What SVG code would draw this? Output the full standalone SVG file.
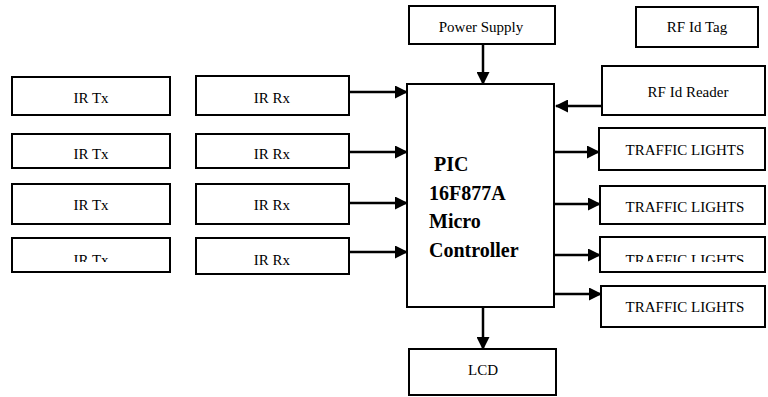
<svg xmlns="http://www.w3.org/2000/svg" width="768" height="397" viewBox="0 0 768 397">
<style>
.b{fill:#fff;stroke:#000;stroke-width:2}
.t{font-family:"Liberation Serif","Times New Roman",serif;font-size:15px;fill:#000;text-anchor:middle}
.m{font-family:"Liberation Serif","Times New Roman",serif;font-size:20px;font-weight:bold;fill:#000}
.c line{stroke:#000;stroke-width:2.5;marker-end:url(#ah)}
</style>
<defs>
<marker id="ah" markerWidth="13" markerHeight="13" refX="12" refY="6.5" orient="auto" markerUnits="userSpaceOnUse">
<path d="M0,0 L13,6.5 L0,13 Z" fill="#000"/>
</marker>
<clipPath id="c4"><rect x="0" y="0" width="768" height="262"/></clipPath>
</defs>
<g id="irtx1"><rect class="b" x="12" y="77" width="158" height="38"/><text class="t" x="91" y="103">IR Tx</text></g>
<g id="irtx2"><rect class="b" x="12" y="134" width="158" height="34"/><text class="t" x="91" y="159">IR Tx</text></g>
<g id="irtx3"><rect class="b" x="12" y="184" width="158" height="40"/><text class="t" x="91" y="210">IR Tx</text></g>
<g id="irtx4"><rect class="b" x="12" y="238" width="158" height="34"/><text class="t" x="91" y="265" clip-path="url(#c4)">IR Tx</text></g>
<g id="irrx1"><rect class="b" x="196" y="76" width="153" height="39"/><text class="t" x="272" y="103">IR Rx</text></g>
<g id="irrx2"><rect class="b" x="196" y="134" width="153" height="34"/><text class="t" x="272" y="159">IR Rx</text></g>
<g id="irrx3"><rect class="b" x="196" y="184" width="153" height="40"/><text class="t" x="272" y="210">IR Rx</text></g>
<g id="irrx4"><rect class="b" x="196" y="238" width="153" height="36"/><text class="t" x="272" y="265">IR Rx</text></g>
<g id="power"><rect class="b" x="409" y="6" width="146" height="38"/><text class="t" x="481" y="32">Power Supply</text></g>
<g id="rftag"><rect class="b" x="636" y="7" width="122" height="40"/><text class="t" x="697" y="32">RF Id Tag</text></g>
<g id="rfreader"><rect class="b" x="602" y="66" width="163" height="49"/><text class="t" x="688" y="97">RF Id Reader</text></g>
<g id="pic"><rect class="b" x="407" y="84" width="147" height="223"/>
<text class="m" x="434" y="171">PIC</text>
<text class="m" x="429" y="200">16F877A</text>
<text class="m" x="429" y="228">Micro</text>
<text class="m" x="429" y="257">Controller</text></g>
<g id="tl1"><rect class="b" x="599" y="128" width="166" height="42"/><text class="t" x="685" y="155">TRAFFIC LIGHTS</text></g>
<g id="tl2"><rect class="b" x="600" y="186" width="165" height="38"/><text class="t" x="685" y="212">TRAFFIC LIGHTS</text></g>
<g id="tl3"><rect class="b" x="600" y="237" width="165" height="35"/><text class="t" x="685" y="265" clip-path="url(#c4)">TRAFFIC LIGHTS</text></g>
<g id="tl4"><rect class="b" x="601" y="286" width="164" height="41"/><text class="t" x="685" y="312">TRAFFIC LIGHTS</text></g>
<g id="lcd"><rect class="b" x="409" y="349" width="147" height="46"/><text class="t" x="483" y="375">LCD</text></g>
<g class="c" id="connectors">
<line x1="349" y1="92" x2="407" y2="92"/>
<line x1="349" y1="152" x2="407" y2="152"/>
<line x1="349" y1="203" x2="407" y2="203"/>
<line x1="349" y1="252" x2="407" y2="252"/>
<line x1="483" y1="44" x2="483" y2="84"/>
<line x1="602" y1="106" x2="556" y2="106"/>
<line x1="554" y1="152" x2="599" y2="152"/>
<line x1="554" y1="204" x2="600" y2="204"/>
<line x1="554" y1="255" x2="600" y2="255"/>
<line x1="554" y1="294" x2="601" y2="294"/>
<line x1="483" y1="307" x2="483" y2="349"/>
</g>
</svg>
